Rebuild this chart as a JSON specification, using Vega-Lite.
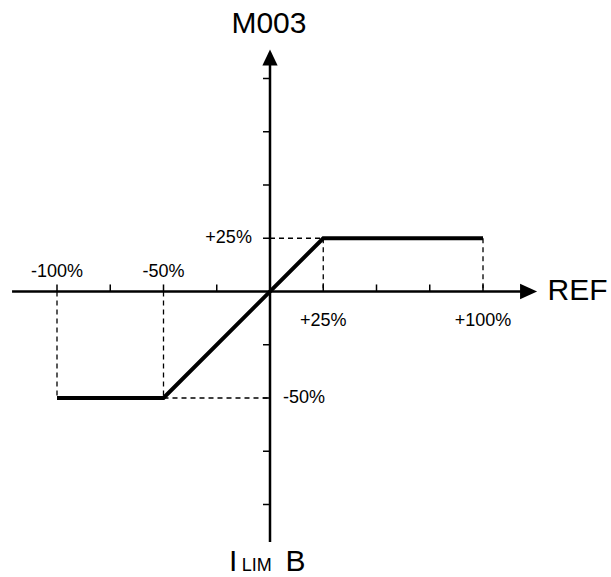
{
  "$schema": "https://vega.github.io/schema/vega-lite/v6.json",
  "width": 611,
  "height": 577,
  "padding": 0,
  "autosize": "none",
  "background": "white",
  "config": {"view": {"stroke": null}},
  "datasets": {
    "curve": [
      {"ref": -100, "out": -50},
      {"ref": -50, "out": -50},
      {"ref": 25, "out": 25},
      {"ref": 100, "out": 25}
    ],
    "guides": [
      {"x": 0, "y": 25, "x2": 25, "y2": 25},
      {"x": 25, "y": 25, "x2": 25, "y2": 0},
      {"x": 100, "y": 25, "x2": 100, "y2": 0},
      {"x": -100, "y": 0, "x2": -100, "y2": -50},
      {"x": -50, "y": 0, "x2": -50, "y2": -50},
      {"x": -50, "y": -50, "x2": 0, "y2": -50}
    ],
    "axes": [
      {"x": -121.1, "y": 0, "x2": 119, "y2": 0},
      {"x": 0, "y": -117.6, "x2": 0, "y2": 108}
    ],
    "ticks": [
      {"v": -100}, {"v": -75}, {"v": -50}, {"v": -25},
      {"v": 25}, {"v": 50}, {"v": 75}, {"v": 100}
    ],
    "labelsCenter": [
      {"x": -100, "y": 6.8, "t": "-100%"},
      {"x": -50, "y": 6.8, "t": "-50%"},
      {"x": 25, "y": -16.2, "t": "+25%"},
      {"x": 100, "y": -16.2, "t": "+100%"}
    ],
    "labelsRight": [
      {"x": -8.5, "y": 22.8, "t": "+25%"}
    ],
    "labelsLeft": [
      {"x": 6.1, "y": -52.3, "t": "-50%"}
    ],
    "titlesCenter": [
      {"x": -0.5, "y": 121.4, "t": "M003"}
    ],
    "titlesLeft": [
      {"x": 130.3, "y": -4.0, "t": "REF"},
      {"x": -19.2, "y": -131.3, "t": "I"},
      {"x": 7.3, "y": -131.3, "t": "B"}
    ],
    "titlesSmall": [
      {"x": -13.3, "y": -131.3, "t": "LIM"}
    ]
  },
  "layer": [
    {
      "data": {"name": "guides"},
      "mark": {"type": "rule", "color": "black", "strokeWidth": 1.3, "strokeDash": [5, 4]},
      "encoding": {
        "x": {"field": "x", "type": "quantitative", "scale": {"domain": [-126.76, 160.09], "nice": false, "zero": false}, "axis": null},
        "y": {"field": "y", "type": "quantitative", "scale": {"domain": [-134.04, 136.85], "nice": false, "zero": false}, "axis": null},
        "x2": {"field": "x2"},
        "y2": {"field": "y2"}
      }
    },
    {
      "data": {"name": "axes"},
      "mark": {"type": "rule", "color": "black", "strokeWidth": 2.5},
      "encoding": {
        "x": {"field": "x", "type": "quantitative"},
        "y": {"field": "y", "type": "quantitative"},
        "x2": {"field": "x2"},
        "y2": {"field": "y2"}
      }
    },
    {
      "data": {"name": "ticks"},
      "mark": {"type": "rule", "color": "black", "strokeWidth": 1.5},
      "encoding": {
        "x": {"field": "v", "type": "quantitative"},
        "y": {"datum": 0, "type": "quantitative"},
        "y2": {"datum": 3.3}
      }
    },
    {
      "data": {"name": "ticks"},
      "mark": {"type": "rule", "color": "black", "strokeWidth": 1.5},
      "encoding": {
        "y": {"field": "v", "type": "quantitative"},
        "x": {"datum": -3.3, "type": "quantitative"},
        "x2": {"datum": 0}
      }
    },
    {
      "data": {"name": "curve"},
      "mark": {"type": "line", "color": "black", "strokeWidth": 4},
      "encoding": {
        "x": {"field": "ref", "type": "quantitative"},
        "y": {"field": "out", "type": "quantitative"}
      }
    },
    {
      "data": {"values": [{"arrow": "REF"}]},
      "mark": {"type": "point", "filled": true, "color": "black", "opacity": 1, "shape": "M-1,-0.9L1,0L-1,0.9Z", "size": 289},
      "encoding": {
        "x": {"datum": 121.4, "type": "quantitative"},
        "y": {"datum": 0, "type": "quantitative"}
      }
    },
    {
      "data": {"values": [{"arrow": "M003"}]},
      "mark": {"type": "point", "filled": true, "color": "black", "opacity": 1, "shape": "M0,-1L0.95,1L-0.95,1Z", "size": 256},
      "encoding": {
        "x": {"datum": 0, "type": "quantitative"},
        "y": {"datum": 109.9, "type": "quantitative"}
      }
    },
    {
      "data": {"name": "labelsCenter"},
      "mark": {"type": "text", "font": "Liberation Sans", "fontSize": 18, "align": "center", "baseline": "alphabetic", "color": "black"},
      "encoding": {
        "x": {"field": "x", "type": "quantitative"},
        "y": {"field": "y", "type": "quantitative"},
        "text": {"field": "t"}
      }
    },
    {
      "data": {"name": "labelsRight"},
      "mark": {"type": "text", "font": "Liberation Sans", "fontSize": 18, "align": "right", "baseline": "alphabetic", "color": "black"},
      "encoding": {
        "x": {"field": "x", "type": "quantitative"},
        "y": {"field": "y", "type": "quantitative"},
        "text": {"field": "t"}
      }
    },
    {
      "data": {"name": "labelsLeft"},
      "mark": {"type": "text", "font": "Liberation Sans", "fontSize": 18, "align": "left", "baseline": "alphabetic", "color": "black"},
      "encoding": {
        "x": {"field": "x", "type": "quantitative"},
        "y": {"field": "y", "type": "quantitative"},
        "text": {"field": "t"}
      }
    },
    {
      "data": {"name": "titlesCenter"},
      "mark": {"type": "text", "font": "Liberation Sans", "fontSize": 30, "align": "center", "baseline": "alphabetic", "color": "black"},
      "encoding": {
        "x": {"field": "x", "type": "quantitative"},
        "y": {"field": "y", "type": "quantitative"},
        "text": {"field": "t"}
      }
    },
    {
      "data": {"name": "titlesLeft"},
      "mark": {"type": "text", "font": "Liberation Sans", "fontSize": 30, "align": "left", "baseline": "alphabetic", "color": "black"},
      "encoding": {
        "x": {"field": "x", "type": "quantitative"},
        "y": {"field": "y", "type": "quantitative"},
        "text": {"field": "t"}
      }
    },
    {
      "data": {"name": "titlesSmall"},
      "mark": {"type": "text", "font": "Liberation Sans", "fontSize": 18, "align": "left", "baseline": "alphabetic", "color": "black"},
      "encoding": {
        "x": {"field": "x", "type": "quantitative"},
        "y": {"field": "y", "type": "quantitative"},
        "text": {"field": "t"}
      }
    }
  ]
}
